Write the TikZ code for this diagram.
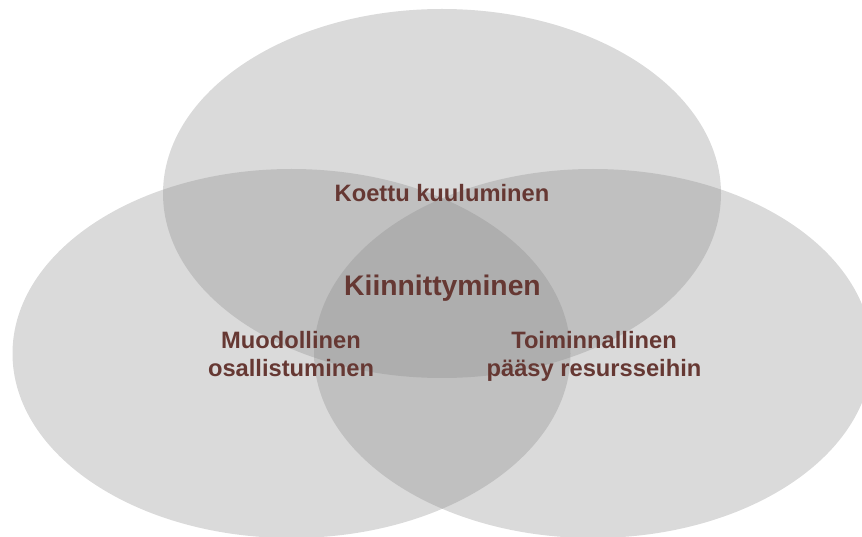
\documentclass[tikz,border=0pt]{standalone}
\usepackage{fontspec}
\setmainfont{Liberation Sans}
\definecolor{blobgray}{RGB}{132,132,132}
\definecolor{labelbrown}{RGB}{102,56,51}
\begin{document}
\begin{tikzpicture}[x=1pt,y=-1pt,
  blob/.style={fill=blobgray,fill opacity=0.3,draw=none},
  lbl/.style={anchor=base,inner sep=0pt,text=labelbrown,font=\bfseries\fontsize{23.7}{28}\selectfont},
  mainlbl/.style={anchor=base,inner sep=0pt,text=labelbrown,font=\bfseries\fontsize{28.3}{34}\selectfont}]
\useasboundingbox (0,0) rectangle (862,537);
\begin{scope}
\clip (0,0) rectangle (862,537);
\fill[blob] (442,193.5) ellipse [x radius=279, y radius=184.5];
\fill[blob] (291.5,353.5) ellipse [x radius=279, y radius=184.5];
\fill[blob] (593,353.5) ellipse [x radius=279, y radius=184.5];
\end{scope}
\node[lbl] (koettu) at (442,201.7) {Koettu kuuluminen};
\node[mainlbl] (kiinn) at (442.5,296) {Kiinnittyminen};
\node[lbl] (muod1) at (291,348.3) {Muodollinen};
\node[lbl] (muod2) at (291,376.3) {osallistuminen};
\node[lbl] (toim1) at (594,348.3) {Toiminnallinen};
\node[lbl] (toim2) at (594,376.3) {pääsy resursseihin};
\end{tikzpicture}
\end{document}
